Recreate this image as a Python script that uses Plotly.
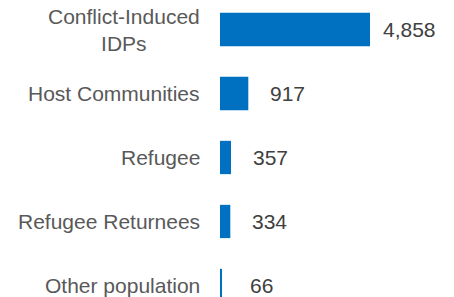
import plotly.graph_objects as go

categories = ["Conflict-Induced<br>IDPs", "Host Communities", "Refugee", "Refugee Returnees", "Other population"]
values = [4858, 917, 357, 334, 66]
value_labels = ["4,858", "917", "357", "334", "66"]

fig = go.Figure()
fig.add_trace(go.Bar(
    y=categories, x=values, orientation="h",
    marker=dict(color="#0070C0", line=dict(width=0)),
    width=0.52, hoverinfo="skip",
))

annotations = []
for c, v, t in zip(categories, values, value_labels):
    annotations.append(dict(
        x=v, y=c, xref="x", yref="y", text=t, showarrow=False,
        xanchor="center", yanchor="middle", xshift=39,
        font=dict(family="Liberation Sans, Arial, sans-serif", size=21, color="#404040"),
    ))
    annotations.append(dict(
        x=0, y=c, xref="paper", yref="y", text=c, showarrow=False,
        xanchor="right", yanchor="middle", xshift=-18, align="center",
        font=dict(family="Liberation Sans, Arial, sans-serif", size=21, color="#595959"),
    ))

fig.update_layout(
    width=446, height=289,
    margin=dict(l=212, r=0, t=0, b=0),
    paper_bgcolor="white", plot_bgcolor="white",
    showlegend=False,
    annotations=annotations,
    xaxis=dict(range=[0, 4858 * 234 / 150], visible=False, fixedrange=True),
    yaxis=dict(range=[4.18, -0.336], showticklabels=False, showgrid=False,
               zeroline=False, showline=False, ticks="", fixedrange=True),
)

fig.write_html("out.html")
